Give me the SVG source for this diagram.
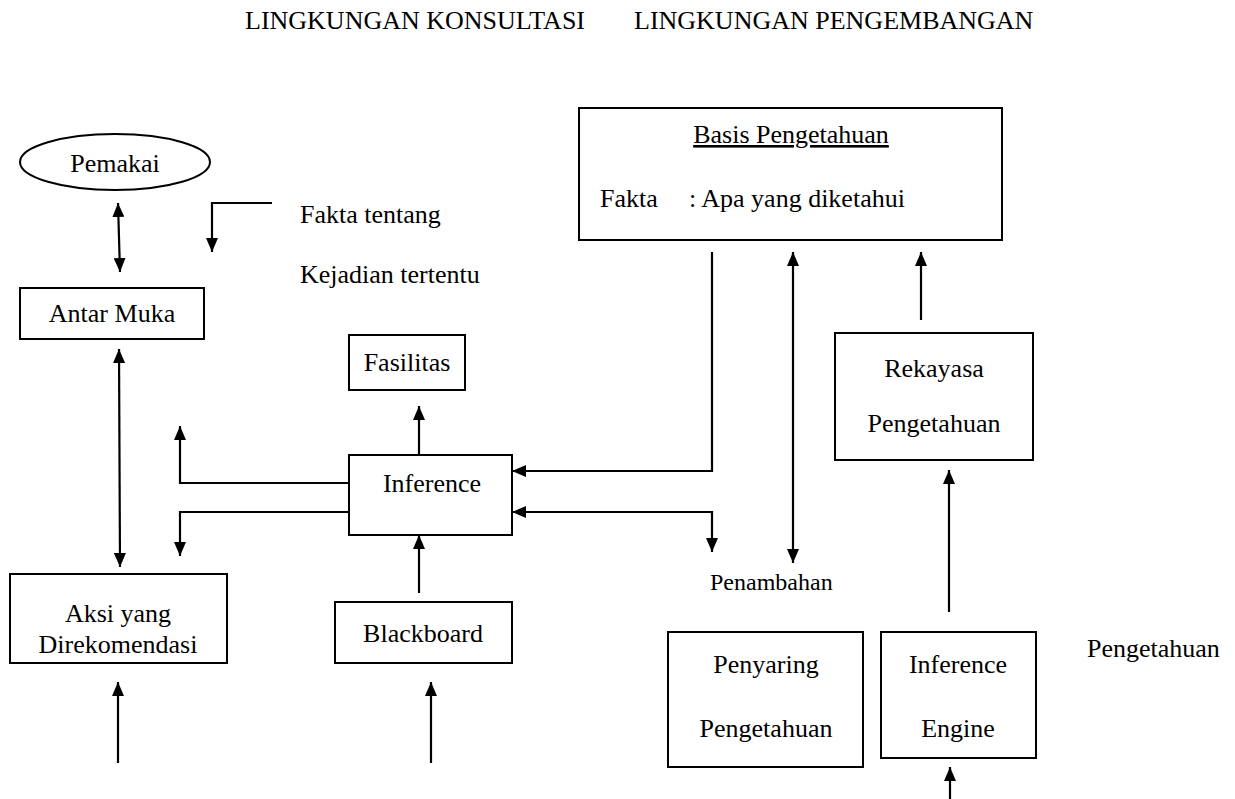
<svg xmlns="http://www.w3.org/2000/svg" width="1235" height="799" viewBox="0 0 1235 799">
<defs>
<marker id="ah" viewBox="0 0 14 12" refX="14" refY="6" markerWidth="14" markerHeight="12" markerUnits="userSpaceOnUse" orient="auto-start-reverse">
<path d="M0,0 L14,6 L0,12 z" fill="#000"/>
</marker>
<style>
text{font-family:"Liberation Serif","Times New Roman",serif;font-size:26px;fill:#000}
.s{font-size:24px}
.c{text-anchor:middle}
.box{fill:#fff;stroke:#000;stroke-width:2}
.ln{fill:none;stroke:#000;stroke-width:2.2}
.a{marker-end:url(#ah)}
.aa{marker-start:url(#ah);marker-end:url(#ah)}
</style>
</defs>
<rect width="1235" height="799" fill="#fff"/>
<g id="title">
<text x="245" y="29">LINGKUNGAN KONSULTASI</text>
<text x="634" y="29">LINGKUNGAN PENGEMBANGAN</text>
</g>
<g id="connectors">
<line class="ln aa" x1="118" y1="203" x2="120" y2="272"/>
<polyline class="ln a" points="272,203 212,203 212,252"/>
<line class="ln aa" x1="119" y1="349" x2="120" y2="567"/>
<line class="ln a" x1="419" y1="455" x2="419" y2="406"/>
<polyline class="ln a" points="349,483 180,483 180,426"/>
<polyline class="ln a" points="349,512 180,512 180,556"/>
<line class="ln a" x1="419" y1="593" x2="419" y2="535"/>
<line class="ln a" x1="118" y1="763" x2="118" y2="682"/>
<line class="ln a" x1="431" y1="763" x2="431" y2="682"/>
<polyline class="ln a" points="712,252 712,471 512,471"/>
<polyline class="ln aa" points="512,512 712,512 712,552"/>
<line class="ln aa" x1="793" y1="252" x2="793" y2="563"/>
<line class="ln a" x1="921" y1="320" x2="921" y2="252"/>
<line class="ln a" x1="949" y1="612" x2="949" y2="470"/>
<line class="ln a" x1="950" y1="799" x2="950" y2="767"/>
</g>
<g id="pemakai">
<ellipse class="box" cx="115" cy="162" rx="95" ry="28"/>
<text class="c" x="115" y="172">Pemakai</text>
</g>
<g id="fakta-label">
<text x="300" y="223">Fakta tentang</text>
<text x="300" y="283">Kejadian tertentu</text>
</g>
<g id="antar-muka">
<rect class="box" x="20" y="288" width="184" height="51"/>
<text class="c" x="112" y="322">Antar Muka</text>
</g>
<g id="fasilitas">
<rect class="box" x="349" y="335" width="116" height="55"/>
<text class="c" x="407" y="371">Fasilitas</text>
</g>
<g id="inference">
<rect class="box" x="349" y="455" width="163" height="80"/>
<text class="c" x="432" y="492">Inference</text>
</g>
<g id="aksi">
<rect class="box" x="10" y="574" width="217" height="89"/>
<text class="c" x="118" y="622">Aksi yang</text>
<text class="c" x="118" y="653">Direkomendasi</text>
</g>
<g id="blackboard">
<rect class="box" x="335" y="602" width="177" height="61"/>
<text class="c" x="423" y="642">Blackboard</text>
</g>
<g id="basis">
<rect class="box" x="579" y="108" width="423" height="132"/>
<text class="c" x="791" y="143" text-decoration="underline">Basis Pengetahuan</text>
<text x="600" y="207">Fakta</text>
<text x="689" y="207">: Apa yang diketahui</text>
</g>
<g id="penambahan-label">
<text class="s" x="710" y="590">Penambahan</text>
</g>
<g id="rekayasa">
<rect class="box" x="835" y="333" width="198" height="127"/>
<text class="c" x="934" y="377">Rekayasa</text>
<text class="c" x="934" y="432">Pengetahuan</text>
</g>
<g id="penyaring">
<rect class="box" x="668" y="632" width="195" height="135"/>
<text class="c" x="766" y="673">Penyaring</text>
<text class="c" x="766" y="737">Pengetahuan</text>
</g>
<g id="inference-engine">
<rect class="box" x="881" y="632" width="155" height="126"/>
<text class="c" x="958" y="673">Inference</text>
<text class="c" x="958" y="737">Engine</text>
</g>
<g id="pengetahuan-label">
<text x="1087" y="657">Pengetahuan</text>
</g>
</svg>
